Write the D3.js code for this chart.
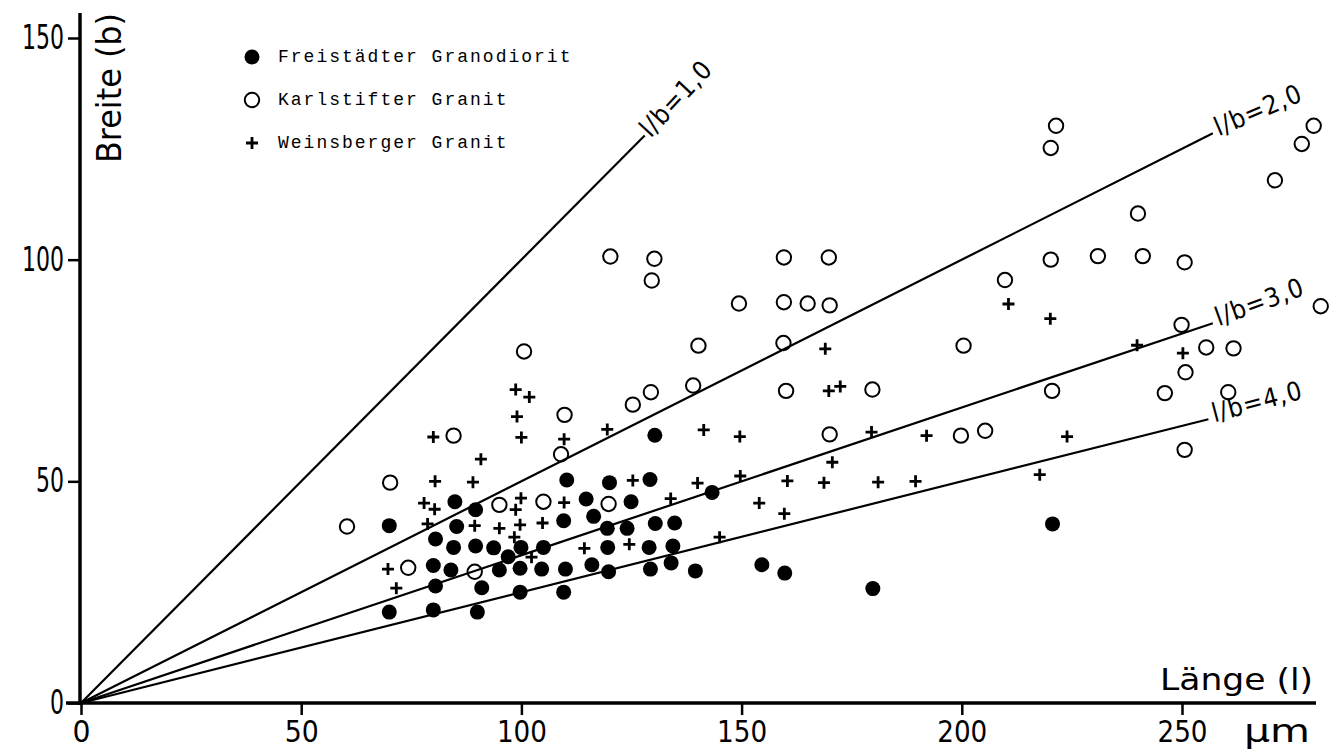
<!DOCTYPE html>
<html>
<head>
<meta charset="utf-8">
<script src="https://cdn.jsdelivr.net/npm/d3@7"></script>
<style>
  body { margin: 0; background: #fff; }
  text { fill: #000; }
</style>
</head>
<body>
<div id="chart"></div>
<script>
// series names as in the legend
const seriesNames = ["Freistädter Granodiorit", "Karlstifter Granit", "Weinsberger Granit"];

// [Länge l, Breite b] in µm
const freistadt = [
  [70, 40], [70, 20.5], [80, 21], [90, 20.5], [80.5, 26.4], [91, 26], [99.7, 25], [109.6, 25],
  [80, 31], [84, 30], [95, 30], [99.7, 30.4], [104.6, 30.2], [110, 30.2], [116, 31.2], [119.8, 29.6],
  [129.3, 30.2], [139.5, 29.8], [134, 31.6], [97, 33], [80.5, 37], [84.6, 35.1], [89.6, 35.4],
  [93.7, 35], [99.9, 35.1], [105, 35.1], [119.6, 35.1], [129, 35.1], [134.4, 35.4], [85.3, 39.8],
  [109.6, 41.1], [116.4, 42.1], [119.5, 39.4], [124, 39.4], [130.4, 40.5], [134.8, 40.6],
  [84.9, 45.4], [89.6, 43.6], [114.7, 46], [124.9, 45.4], [110.3, 50.3], [120, 49.7], [129.2, 50.4],
  [130.3, 60.4], [143.3, 47.5], [154.6, 31.2], [159.8, 29.3], [179.8, 25.8], [220.6, 40.4]
];

const karlstift = [
  [60.4, 39.8], [70.2, 49.7], [74.3, 30.5], [89.4, 29.6], [84.6, 60.3], [95, 44.7], [105, 45.4],
  [119.8, 44.9], [109, 56.1], [109.8, 65], [100.6, 79.3], [125.3, 67.3], [129.4, 70.1], [139, 71.6],
  [140.2, 80.6], [120.2, 100.7], [130.2, 100.2], [129.6, 95.3], [149.4, 90.1], [159.6, 100.5],
  [169.8, 100.5], [159.6, 90.4], [165, 90.1], [170, 89.7], [159.5, 81.2], [160.1, 70.4],
  [179.7, 70.7], [170, 60.6], [199.8, 60.3], [205.3, 61.4], [200.4, 80.6], [209.8, 95.4],
  [221.4, 130.2], [220.2, 125.2], [279.9, 130.2], [277.2, 126.1], [271.1, 117.9], [240, 110.4],
  [220.2, 100], [230.9, 100.8], [241.1, 100.8], [250.6, 99.4], [281.5, 89.5], [249.9, 85.3],
  [255.5, 80.2], [261.7, 80], [250.8, 74.6], [220.5, 70.4], [246.1, 69.9], [260.5, 70.1], [250.6, 57.1]
];

const weinsberg = [
  [69.7, 30.2], [71.6, 25.9], [77.9, 45.1], [80.3, 43.7], [78.7, 40.4], [80.4, 50], [80, 60],
  [89, 49.8], [90.8, 55], [89.4, 40], [95, 39.4], [98.4, 37.4], [98.7, 43.6], [99.9, 46.2],
  [99.7, 40.2], [104.8, 40.6], [102.3, 32.9], [98.7, 70.7], [101.8, 69], [99, 64.6], [100, 59.9],
  [109.7, 59.5], [109.7, 45.2], [114.3, 34.9], [124.5, 35.8], [125.3, 50.2], [119.5, 61.7],
  [133.9, 46.1], [140, 49.6], [141.4, 61.6], [145, 37.4], [149.6, 60.1], [149.7, 51.2], [154, 45.1],
  [159.7, 42.7], [160.4, 50.1], [168.7, 49.7], [169, 79.9], [169.8, 70.4], [172.4, 71.4],
  [170.6, 54.3], [179.5, 61.1], [181, 49.8], [189.5, 50], [192, 60.3], [210.6, 90], [217.7, 51.5],
  [220.1, 86.7], [223.9, 60.1], [239.8, 80.7], [250.2, 78.9]
];

// l/b reference lines: ratio, length where drawn line stops, label
const ratios = [1, 2, 3, 4];
const ratioEnds = [128, 257, 257, 256];
const ratioLabels = ["l/b=1,0", "l/b=2,0", "l/b=3,0", "l/b=4,0"];
const ratioAngles = [-47, -23, -20, -15];

const xTicks = [0, 50, 100, 150, 200, 250];
const yTicks = [0, 50, 100, 150];

const W = 1343, H = 752;
const font = "'DejaVu Sans Condensed', 'DejaVu Sans', sans-serif";

const svg = d3.select("#chart").append("svg")
  .attr("width", W).attr("height", H);

const x = d3.scaleLinear().domain([0, 250]).range([81, 1182]);
const y = d3.scaleLinear().domain([0, 150]).range([703, 38]);

// axes
const xAxis = svg.append("g")
  .attr("transform", `translate(0,${y(0)})`)
  .call(d3.axisBottom(x).tickValues(xTicks).tickSize(12).tickPadding(6));
xAxis.select(".domain").remove();
xAxis.append("line")
  .attr("x1", 66).attr("x2", 1316)
  .attr("stroke", "#000").attr("stroke-width", 3.5);
xAxis.selectAll(".tick line").attr("stroke-width", 2.5);
xAxis.selectAll(".tick text")
  .attr("font-family", font).attr("font-size", 31).attr("fill", "#000")
  .attr("y", 39).attr("dy", null)
  .attr("textLength", d => String(d).length * 16 + 2)
  .attr("lengthAdjust", "spacingAndGlyphs");

const yAxis = svg.append("g")
  .attr("transform", `translate(${x(0) - 1},0)`)
  .call(d3.axisLeft(y).tickValues(yTicks).tickSize(12).tickPadding(4));
yAxis.select(".domain").remove();
yAxis.append("line")
  .attr("y1", 13).attr("y2", y(0) + 2)
  .attr("stroke", "#000").attr("stroke-width", 3.5);
yAxis.selectAll(".tick line").attr("stroke-width", 2.5);
yAxis.selectAll(".tick text")
  .attr("font-family", font).attr("font-size", 33).attr("fill", "#000")
  .attr("textLength", d => String(d).length * 14)
  .attr("lengthAdjust", "spacingAndGlyphs");

// axis titles
svg.append("text")
  .attr("transform", "translate(121,163) rotate(-90)")
  .attr("font-family", font).attr("font-size", 34)
  .attr("textLength", 150).attr("lengthAdjust", "spacingAndGlyphs")
  .text("Breite (b)");

svg.append("text")
  .attr("x", 1160).attr("y", 690)
  .attr("font-family", font).attr("font-size", 31)
  .attr("textLength", 153).attr("lengthAdjust", "spacingAndGlyphs")
  .text("Länge (l)");

svg.append("text")
  .attr("x", 1244).attr("y", 742)
  .attr("font-family", font).attr("font-size", 32)
  .attr("textLength", 66).attr("lengthAdjust", "spacingAndGlyphs")
  .text("μm");

// ratio lines
const rl = svg.append("g");
ratios.forEach((r, i) => {
  const xe = ratioEnds[i];
  rl.append("line")
    .attr("x1", x(0)).attr("y1", y(0))
    .attr("x2", x(xe)).attr("y2", y(xe / r))
    .attr("stroke", "#000").attr("stroke-width", 2.2);
  rl.append("text")
    .attr("transform", `translate(${x(xe) + 6},${y(xe / r) + 3}) rotate(${ratioAngles[i]})`)
    .attr("font-family", font).attr("font-size", 26)
    .attr("letter-spacing", 1)
    .text(ratioLabels[i]);
});

// markers
const pts = svg.append("g");
pts.selectAll("circle.fr").data(freistadt).join("circle")
  .attr("class", "fr")
  .attr("cx", d => x(d[0])).attr("cy", d => y(d[1]))
  .attr("r", 7.5).attr("fill", "#000");

pts.selectAll("circle.ka").data(karlstift).join("circle")
  .attr("class", "ka")
  .attr("cx", d => x(d[0])).attr("cy", d => y(d[1]))
  .attr("r", 7.2).attr("fill", "none")
  .attr("stroke", "#000").attr("stroke-width", 2);

const plus = "M-6,0H6M0,-6V6";
pts.selectAll("path.we").data(weinsberg).join("path")
  .attr("class", "we")
  .attr("transform", d => `translate(${x(d[0])},${y(d[1])})`)
  .attr("d", plus)
  .attr("stroke", "#000").attr("stroke-width", 2.8);

// legend
const legend = svg.append("g").attr("transform", "translate(252,0)");
const legY = [57, 100, 143];
seriesNames.forEach((name, i) => {
  const g = legend.append("g").attr("transform", `translate(0,${legY[i]})`);
  if (i === 0) g.append("circle").attr("r", 7.5).attr("fill", "#000");
  if (i === 1) g.append("circle").attr("r", 7.2).attr("fill", "none")
    .attr("stroke", "#000").attr("stroke-width", 2);
  if (i === 2) g.append("path").attr("d", plus)
    .attr("stroke", "#000").attr("stroke-width", 2.8);
  g.append("text")
    .attr("x", 26).attr("y", 5)
    .attr("font-family", "'Liberation Mono', 'Courier New', monospace")
    .attr("font-size", 18)
    .attr("letter-spacing", 2)
    .text(name);
});
</script>
</body>
</html>
